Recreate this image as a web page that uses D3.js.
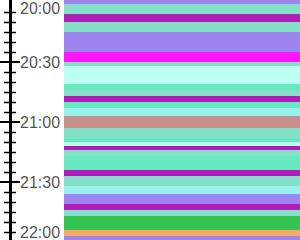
<!DOCTYPE html>
<html><head><meta charset="utf-8">
<script src="https://cdn.jsdelivr.net/npm/d3@7"></script>
<style>html,body{margin:0;padding:0;background:#fff;overflow:hidden}</style>
</head><body><svg id="c" width="300" height="240"></svg>
<script>
const startTimes = ["19:57","20:01","20:06","20:10","20:15","20:25","20:30","20:32","20:41","20:44","20:47","20:50","20:53","20:57","21:03","21:08","21:10","21:12","21:14","21:17","21:24","21:27","21:32","21:36","21:41","21:44","21:47","21:54","21:57"];
const endTimes   = ["20:01","20:06","20:10","20:15","20:25","20:30","20:32","20:41","20:44","20:47","20:50","20:53","20:57","21:03","21:08","21:10","21:12","21:14","21:17","21:24","21:27","21:32","21:36","21:41","21:44","21:47","21:54","21:57","22:03"];
const categories = ["A","B","C","B","A","D","B","E","F","B","C","F","G","H","B","F","E","C","B","F","C","B","G","A","C","B","I","J","A"];
const categoryNames  = ["A","B","C","D","E","F","G","H","I","J"];
const categoryColors = ["#9d84ef","#84e0c8","#b01cb8","#ff16ff","#bbfff0","#66e9bf","#98f0ef","#c8908a","#33c452","#f8a86a"];
const domainTimes = ["20:00","22:00"];
const majorLabels = ["20:00","20:30","21:00","21:30","22:00"];

const W = 300, H = 240;
const parse = d3.timeParse("%H:%M");
const svg = d3.select("#c");
const y = d3.scaleTime().domain(domainTimes.map(parse)).range([2, 242]);
const color = d3.scaleOrdinal().domain(categoryNames).range(categoryColors);

const data = startTimes.map((s,i)=>({s:parse(s), e:parse(endTimes[i]), c:categories[i]}));
const bandX = 64;
svg.append("g").selectAll("rect").data(data).join("rect")
  .attr("x", bandX).attr("width", W - bandX)
  .attr("y", d=>y(d.s)).attr("height", d=>y(d.e)-y(d.s))
  .attr("fill", d=>color(d.c));

// axis
const ax = svg.append("g");
ax.append("line").attr("x1",10.5).attr("x2",10.5).attr("y1",0).attr("y2",H)
  .attr("stroke","#000").attr("stroke-width",3);
const minor = y.ticks(d3.timeMinute.every(5)).filter(t=>t.getMinutes()%30!==0);
ax.selectAll("line.mn").data(minor).join("line").attr("class","mn")
  .attr("x1",4).attr("x2",16)
  .attr("y1",d=>Math.round(y(d))+0.5).attr("y2",d=>Math.round(y(d))+0.5)
  .attr("stroke","#000").attr("stroke-width",1.5);
const major = majorLabels.map(parse);
ax.selectAll("line.mj").data(major.filter(d=>y(d)>4 && y(d)<H-4)).join("line").attr("class","mj")
  .attr("x1",0).attr("x2",20)
  .attr("y1",d=>Math.round(y(d))).attr("y2",d=>Math.round(y(d)))
  .attr("stroke","#000").attr("stroke-width",2);
const fmt = d3.timeFormat("%H:%M");
const cap = 11.5;
ax.selectAll("text").data(major).join("text")
  .attr("x",20)
  .attr("y",d=>{ let c = y(d); c = Math.max(2+cap/2, Math.min(238-cap/2, c)); return c + cap/2; })
  .attr("font-family","Liberation Sans, Arial, sans-serif").attr("font-size",16)
  .attr("fill","#555").text(d=>fmt(d));
</script></body></html>
